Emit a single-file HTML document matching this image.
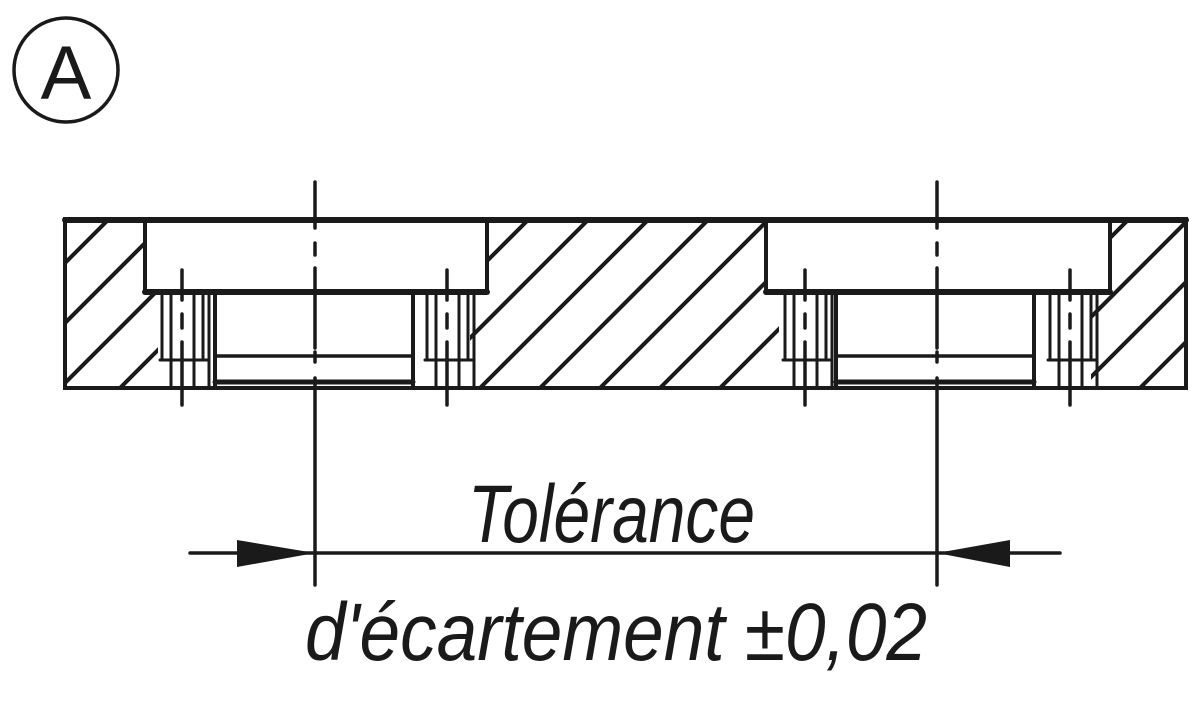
<!DOCTYPE html>
<html><head><meta charset="utf-8"><style>html,body{margin:0;padding:0;background:#fff}svg{display:block}</style></head>
<body>
<svg width="1200" height="703" viewBox="0 0 1200 703" xmlns="http://www.w3.org/2000/svg">
<defs>
<clipPath id="c"><rect x="65" y="219" width="1121" height="169"/></clipPath>
</defs>
<circle cx="66" cy="70" r="52" stroke="#1a1a1a" stroke-width="3.5" fill="none"/>
<text x="66" y="99" font-family="Liberation Sans, sans-serif" font-size="76" text-anchor="middle" fill="#1a1a1a">A</text>

<!-- hatch -->
<g clip-path="url(#c)" stroke="#1a1a1a" stroke-width="4">
<line x1="-200" y1="388" x2="-31" y2="219" transform="translate(0,0)"/>
<g id="hl">
<line x1="0" y1="568" x2="400" y2="168"/>
</g>
<use href="#hl" x="-300"/><use href="#hl" x="-240"/><use href="#hl" x="-180"/><use href="#hl" x="-120"/><use href="#hl" x="-60"/>
<use href="#hl" x="60"/><use href="#hl" x="120"/><use href="#hl" x="180"/><use href="#hl" x="240"/><use href="#hl" x="300"/>
<use href="#hl" x="360"/><use href="#hl" x="420"/><use href="#hl" x="480"/><use href="#hl" x="540"/><use href="#hl" x="600"/>
<use href="#hl" x="660"/><use href="#hl" x="720"/><use href="#hl" x="780"/><use href="#hl" x="840"/><use href="#hl" x="900"/>
<use href="#hl" x="960"/><use href="#hl" x="1020"/>
</g>
<!-- cutouts -->
<g fill="#fff">
<rect x="145" y="221" width="342" height="71"/>
<rect x="158" y="292" width="312" height="96"/>
<rect x="766" y="221" width="344" height="71"/>
<rect x="779" y="292" width="312" height="96"/>
</g>
<g stroke="#1a1a1a" fill="none" stroke-linecap="round" stroke-width="4">
<rect x="65" y="219" width="1121" height="169"/>
<line x1="65" y1="220" x2="1186" y2="220" stroke-width="6"/>
<path d="M145 222 V292 M487 222 V292 M766 222 V292 M1110 222 V292"/>
<line x1="145" y1="292" x2="487" y2="292" stroke-width="6"/>
<line x1="766" y1="292" x2="1110" y2="292" stroke-width="6"/>
<path d="M215 294 V386 M413 294 V386 M836 294 V386 M1034 294 V386"/>
<line x1="215" y1="356" x2="413" y2="356" stroke-width="3.5"/>
<line x1="215" y1="382" x2="413" y2="382" stroke-width="5"/>
<line x1="836" y1="356" x2="1034" y2="356" stroke-width="3.5"/>
<line x1="836" y1="382" x2="1034" y2="382" stroke-width="5"/>
</g>
<g stroke="#1a1a1a" fill="none" stroke-linecap="round" stroke-width="3">
<g id="pin">
<path d="M162 294 V360 M171 294 V388 M194 294 V388 M203 294 V360 M209 294 V388"/>
<path d="M160 360 H207"/>
<path d="M182 270 V300 M182 314 V328 M182 342 V405" stroke-width="3.5"/>
</g>
<use href="#pin" x="265"/>
<use href="#pin" x="623"/>
<use href="#pin" x="888"/>
</g>
<g stroke="#1a1a1a" stroke-width="3.5" stroke-linecap="round" fill="none">
<path d="M315 182 V228 M315 243 V255 M315 268 V348 M315 352 V362 M315 378 V585"/>
<path d="M937 182 V228 M937 243 V255 M937 268 V348 M937 352 V362 M937 378 V585"/>
<line x1="190" y1="553" x2="1060" y2="553"/>
</g>
<polygon points="237,540 315,553 237,567" fill="#1a1a1a"/>
<polygon points="1010,540 937,553 1010,567" fill="#1a1a1a"/>
<g font-family="Liberation Sans Narrow, Liberation Sans, sans-serif" font-style="italic" font-size="82" fill="#1a1a1a">
<text x="468" y="542" textLength="287" lengthAdjust="spacingAndGlyphs">Tolérance</text>
<text x="305" y="660" textLength="622" lengthAdjust="spacingAndGlyphs">d'écartement ±0,02</text>
</g>
</svg>
</body></html>
